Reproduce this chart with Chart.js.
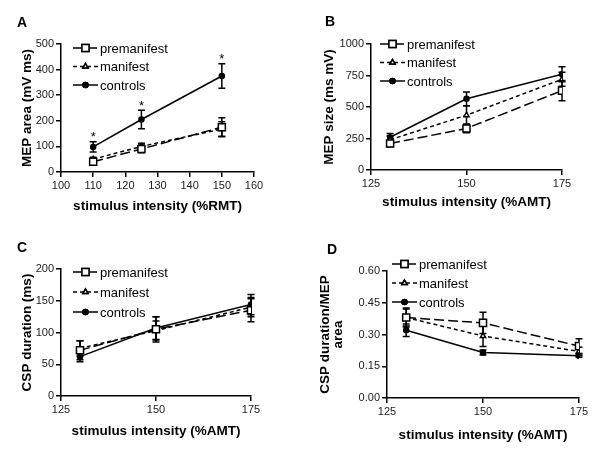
<!DOCTYPE html>
<html>
<head>
<meta charset="utf-8">
<script src="https://cdn.jsdelivr.net/npm/chart.js@4.4.1/dist/chart.umd.min.js"></script>
<style>
    body { margin: 0; background: #fff; }
    /* one box per panel */
    .panel { position: absolute; }
    #wrapA { left: 0; top: 0; }
    #wrapB { left: 300px; top: 0; }
    #wrapC { left: 0; top: 225px; }
    #wrapD { left: 300px; top: 225px; }
</style>
</head>
<body>
<div class="panel" id="wrapA"><canvas id="chartA" width="300" height="225"></canvas></div>
<div class="panel" id="wrapB"><canvas id="chartB" width="300" height="225"></canvas></div>
<div class="panel" id="wrapC"><canvas id="chartC" width="300" height="226"></canvas></div>
<div class="panel" id="wrapD"><canvas id="chartD" width="300" height="226"></canvas></div>
<script>
    // data
    const seriesNames = ['premanifest', 'manifest', 'controls'];

    // A: MEP area vs %RMT
    const xA = [110, 125, 150];
    const aPre = [40, 90, 175];
    const aPreErr = [10, 15, 37];
    const aMan = [50, 100, 168];
    const aManErr = [8, 12, 28];
    const aCon = [98, 205, 375];
    const aConErr = [20, 36, 48];
    const ticksXA = [100, 110, 120, 130, 140, 150, 160];
    const ticksYA = [0, 100, 200, 300, 400, 500];

    // B: MEP size vs %AMT
    const xB = [130, 150, 175];
    const bPre = [210, 330, 630];
    const bPreErr = [25, 35, 80];
    const bMan = [240, 435, 720];
    const bManErr = [30, 75, 55];
    const bCon = [260, 565, 760];
    const bConErr = [30, 55, 60];
    const ticksXB = [125, 150, 175];
    const ticksYB = [0, 250, 500, 750, 1000];

    // C: CSP duration vs %AMT
    const xC = [130, 150, 175];
    const cPre = [72, 105, 135];
    const cPreErr = [15, 20, 18];
    const cMan = [75, 103, 140];
    const cManErr = [12, 15, 15];
    const cCon = [62, 107, 144];
    const cConErr = [8, 18, 16];
    const ticksYC = [0, 50, 100, 150, 200];

    // D: CSP duration / MEP area vs %AMT
    const xD = [130, 150, 175];
    const dPre = [0.38, 0.355, 0.245];
    const dPreErr = [0.045, 0.05, 0.035];
    const dMan = [0.38, 0.293, 0.22];
    const dManErr = [0.04, 0.05, 0.02];
    const dCon = [0.32, 0.215, 0.20];
    const dConErr = [0.03, 0.012, 0.008];
    const ticksYD = [0, 0.15, 0.30, 0.45, 0.60];

    const FONT = '"Liberation Sans", Arial, sans-serif';

    // line look per group
    const styles = [
        { dash: [10, 4], point: 'rect', radius: 5, fill: '#fff' },
        { dash: [4, 3], point: 'triangle', radius: 3, fill: '#fff' },
        { dash: [], point: 'circle', radius: 2.5, fill: '#000' }
    ];

    function makeDatasets(xs, ys, errs) {
        return ys.map(function (vals, i) {
            const s = styles[i];
            return {
                label: seriesNames[i],
                data: xs.map(function (x, k) { return { x: x, y: vals[k] }; }),
                errors: errs[i],
                borderColor: '#000',
                borderWidth: 1.5,
                borderDash: s.dash,
                pointStyle: s.point,
                pointRadius: s.radius,
                pointBorderWidth: 1.5,
                pointBorderColor: '#000',
                pointBackgroundColor: s.fill,
                tension: 0,
                fill: false
            };
        });
    }

    // error bars, drawn under the markers
    const errorBars = {
        id: 'errorBars',
        beforeDatasetsDraw(chart) {
            const ctx = chart.ctx;
            const xs = chart.scales.x, ys = chart.scales.y;
            ctx.save();
            ctx.strokeStyle = '#000';
            ctx.lineWidth = 1.5;
            ctx.setLineDash([]);
            chart.data.datasets.forEach(function (ds) {
                ds.data.forEach(function (p, k) {
                    const e = ds.errors[k];
                    const px = xs.getPixelForValue(p.x);
                    const top = ys.getPixelForValue(p.y + e);
                    const bot = ys.getPixelForValue(p.y - e);
                    ctx.beginPath();
                    ctx.moveTo(px, top); ctx.lineTo(px, bot);
                    ctx.moveTo(px - 3.5, top); ctx.lineTo(px + 3.5, top);
                    ctx.moveTo(px - 3.5, bot); ctx.lineTo(px + 3.5, bot);
                    ctx.stroke();
                });
            });
            ctx.restore();
        }
    };

    // legend inside the plot, line + marker + name
    const lineLegend = {
        id: 'lineLegend',
        afterDraw(chart, args, opts) {
            const ctx = chart.ctx;
            ctx.save();
            ctx.font = '13px ' + FONT;
            ctx.textBaseline = 'middle';
            ctx.fillStyle = '#000';
            chart.data.datasets.forEach(function (ds, i) {
                const y = opts.top + i * opts.gap;
                const x0 = opts.left, x1 = opts.left + 25;
                ctx.strokeStyle = '#000';
                ctx.lineWidth = 1.5;
                ctx.setLineDash(ds.borderDash);
                ctx.beginPath();
                ctx.moveTo(x0, y); ctx.lineTo(x1, y);
                ctx.stroke();
                ctx.setLineDash([]);
                ctx.fillStyle = ds.pointBackgroundColor;
                Chart.helpers.drawPoint(ctx, {
                    pointStyle: ds.pointStyle, radius: ds.pointRadius,
                    borderWidth: 1.5, rotation: 0
                }, (x0 + x1) / 2, y);
                ctx.fill();
                ctx.stroke();
                ctx.fillStyle = '#000';
                ctx.fillText(ds.label, x1 + 2, y + 1);
            });
            ctx.restore();
        }
    };

    // panel letter and significance stars
    const extras = {
        id: 'extras',
        afterDraw(chart, args, opts) {
            const ctx = chart.ctx;
            ctx.save();
            ctx.fillStyle = '#000';
            ctx.font = 'bold 14px ' + FONT;
            ctx.textAlign = 'center';
            ctx.textBaseline = 'middle';
            ctx.fillText(opts.letter, opts.lx, opts.ly);
            if (opts.stars) {
                const ds = chart.data.datasets[opts.stars];
                ctx.font = '13px ' + FONT;
                ds.data.forEach(function (p, k) {
                    const px = chart.scales.x.getPixelForValue(p.x);
                    const py = chart.scales.y.getPixelForValue(p.y + ds.errors[k]);
                    ctx.fillText('*', px, py - 4);
                });
            }
            ctx.restore();
        }
    };

    function makeChart(id, cfg) {
        const ctx = document.getElementById(id).getContext('2d');
        return new Chart(ctx, {
            type: 'line',
            data: { datasets: cfg.datasets },
            plugins: [errorBars, lineLegend, extras],
            options: {
                responsive: false,
                animation: false,
                devicePixelRatio: 1,
                layout: { padding: { left: 0, right: cfg.padRight, top: cfg.padTop, bottom: 0 } },
                plugins: {
                    legend: { display: false },
                    tooltip: { enabled: false },
                    lineLegend: cfg.legend,
                    extras: cfg.extras
                },
                scales: {
                    x: {
                        type: 'linear',
                        min: cfg.xTicks[0],
                        max: cfg.xTicks[cfg.xTicks.length - 1],
                        afterBuildTicks: function (s) { s.ticks = cfg.xTicks.map(function (v) { return { value: v }; }); },
                        afterFit: function (s) { s.height = cfg.xHeight; },
                        grid: { drawOnChartArea: false, drawTicks: true, tickLength: 5, color: '#000', lineWidth: 1.5 },
                        border: { display: true, color: '#000', width: 1.5 },
                        ticks: { color: '#222', font: { family: FONT, size: 11 }, padding: 2, maxRotation: 0 },
                        title: {
                            display: true, text: cfg.xTitle, color: '#000',
                            font: { family: FONT, size: 13.5, weight: 'bold' },
                            padding: { top: 0, bottom: cfg.xTitlePad }
                        }
                    },
                    y: {
                        type: 'linear',
                        min: cfg.yTicks[0],
                        max: cfg.yTicks[cfg.yTicks.length - 1],
                        afterBuildTicks: function (s) { s.ticks = cfg.yTicks.map(function (v) { return { value: v }; }); },
                        afterFit: function (s) { s.width = cfg.yWidth; },
                        grid: { drawOnChartArea: false, drawTicks: true, tickLength: 5, color: '#000', lineWidth: 1.5 },
                        border: { display: true, color: '#000', width: 1.5 },
                        ticks: {
                            color: '#222', font: { family: FONT, size: 11 }, padding: 2,
                            callback: cfg.yFormat || function (v) { return v; }
                        },
                        title: {
                            display: true, text: cfg.yTitle, color: '#000',
                            font: { family: FONT, size: 13.5, weight: 'bold', lineHeight: 0.95 },
                            padding: { top: cfg.yTitlePad, bottom: 0 }
                        }
                    }
                }
            }
        });
    }

    makeChart('chartA', {
        datasets: makeDatasets(xA, [aPre, aMan, aCon], [aPreErr, aManErr, aConErr]),
        xTicks: ticksXA, yTicks: ticksYA,
        padRight: 46, padTop: 44, xHeight: 53, yWidth: 61,
        xTitle: 'stimulus intensity (%RMT)', xTitlePad: 11,
        yTitle: 'MEP area (mV ms)', yTitlePad: 21,
        legend: { left: 73, top: 48, gap: 18.5 },
        extras: { letter: 'A', lx: 22, ly: 23, stars: 2 }
    });

    makeChart('chartB', {
        datasets: makeDatasets(xB, [bPre, bMan, bCon], [bPreErr, bManErr, bConErr]),
        xTicks: ticksXB, yTicks: ticksYB,
        padRight: 38, padTop: 44, xHeight: 55, yWidth: 71,
        xTitle: 'stimulus intensity (%AMT)', xTitlePad: 15,
        yTitle: 'MEP size (ms mV)', yTitlePad: 23,
        legend: { left: 80, top: 44, gap: 18.5 },
        extras: { letter: 'B', lx: 30, ly: 22 }
    });

    makeChart('chartC', {
        datasets: makeDatasets(xC, [cPre, cMan, cCon], [cPreErr, cManErr, cConErr]),
        xTicks: ticksXB, yTicks: ticksYC,
        padRight: 49, padTop: 44, xHeight: 55, yWidth: 61,
        xTitle: 'stimulus intensity (%AMT)', xTitlePad: 12,
        yTitle: 'CSP duration (ms)', yTitlePad: 21,
        legend: { left: 73, top: 47, gap: 20 },
        extras: { letter: 'C', lx: 22, ly: 23 }
    });

    makeChart('chartD', {
        datasets: makeDatasets(xD, [dPre, dMan, dCon], [dPreErr, dManErr, dConErr]),
        xTicks: ticksXB, yTicks: ticksYD,
        padRight: 21, padTop: 46, xHeight: 53, yWidth: 87,
        xTitle: 'stimulus intensity (%AMT)', xTitlePad: 8,
        yTitle: ['CSP duration/MEP', 'area'], yTitlePad: 19,
        yFormat: function (v) { return v.toFixed(2); },
        legend: { left: 92, top: 39, gap: 19 },
        extras: { letter: 'D', lx: 32, ly: 25 }
    });
</script>
</body>
</html>
